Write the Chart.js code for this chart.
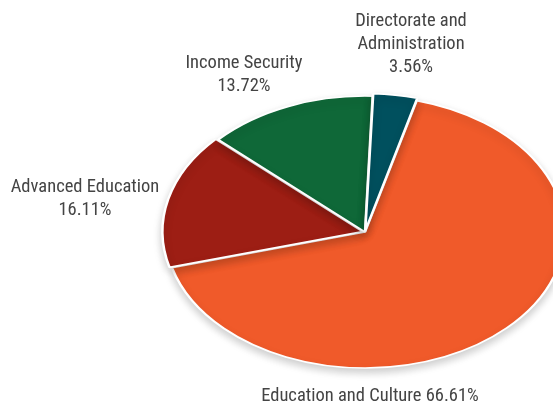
<!DOCTYPE html>
<html>
<head>
<meta charset="utf-8">
<script src="https://cdn.jsdelivr.net/npm/chart.js@4/dist/chart.umd.min.js"></script>
<style>
  html, body { margin: 0; padding: 0; background: #ffffff; }
  #wrap { position: relative; width: 553px; height: 407px; overflow: hidden; }
  canvas { display: block; }
</style>
</head>
<body>
<div id="wrap"><canvas id="pie" width="553" height="407"></canvas></div>
<script>
// Budget shares by program area (percent)
const categories = ['Education and Culture', 'Advanced Education', 'Income Security', 'Directorate and Administration'];
const shares = [66.61, 16.11, 13.72, 3.56];
const colors = ['#F05A2A', '#9D1E14', '#0F6838', '#00505E'];
// Wedges pulled out from the centre (px)
const pullOut = [0, 9, 0, 8];

// Label lines per category and where each label block sits
const labelLines = [
  ['Education and Culture'],
  ['Advanced Education'],
  ['Income Security'],
  ['Directorate and', 'Administration']
];
const labelLayout = [
  { x: 370, y: 401, inline: true },
  { x: 85,  y: 192, inline: false },
  { x: 244, y: 68,  inline: false },
  { x: 411, y: 26,  inline: false }
];

const CX = 365, CY = 232, R = 200, SQUASH = 0.68;
const FONT = "18.5px 'Liberation Sans Narrow', 'Roboto Condensed', 'DejaVu Sans Condensed', sans-serif";

// Tilt the pie into an ellipse and give it a soft drop shadow
const tiltPlugin = {
  id: 'tilt',
  beforeDatasetsDraw(chart) {
    const ctx = chart.ctx;
    ctx.save();
    ctx.translate(CX, CY);
    ctx.scale(1, SQUASH);
    ctx.translate(-CX, -CY);
    ctx.shadowColor = 'rgba(0,0,0,0.2)';
    ctx.shadowBlur = 8;
    ctx.shadowOffsetX = 0;
    ctx.shadowOffsetY = 4;
  },
  afterDatasetsDraw(chart) {
    chart.ctx.restore();
  }
};

// Category labels with their percentages
const labelPlugin = {
  id: 'labels',
  afterDraw(chart) {
    const ctx = chart.ctx;
    ctx.save();
    ctx.font = FONT;
    ctx.fillStyle = '#444444';
    ctx.textAlign = 'center';
    ctx.textBaseline = 'alphabetic';
    const lineH = 23;
    shares.forEach((v, i) => {
      const pos = labelLayout[i];
      const pct = v.toFixed(2) + '%';
      let lines = labelLines[i].slice();
      if (pos.inline) lines[lines.length - 1] += ' ' + pct;
      else lines.push(pct);
      lines.forEach((t, k) => ctx.fillText(t, pos.x, pos.y + k * lineH));
    });
    ctx.restore();
  }
};

new Chart(document.getElementById('pie'), {
  type: 'pie',
  data: {
    labels: categories,
    datasets: [{
      data: shares,
      backgroundColor: colors,
      borderColor: '#ffffff',
      borderWidth: 2.5,
      offset: pullOut,
      hoverOffset: 0,
      clip: false
    }]
  },
  options: {
    responsive: false,
    animation: false,
    rotation: 15,
    radius: R,
    layout: { padding: { left: 177, right: 0, top: 57, bottom: 0 } },
    plugins: {
      legend: { display: false },
      tooltip: { enabled: false }
    },
    events: []
  },
  plugins: [tiltPlugin, labelPlugin]
});
</script>
</body>
</html>
